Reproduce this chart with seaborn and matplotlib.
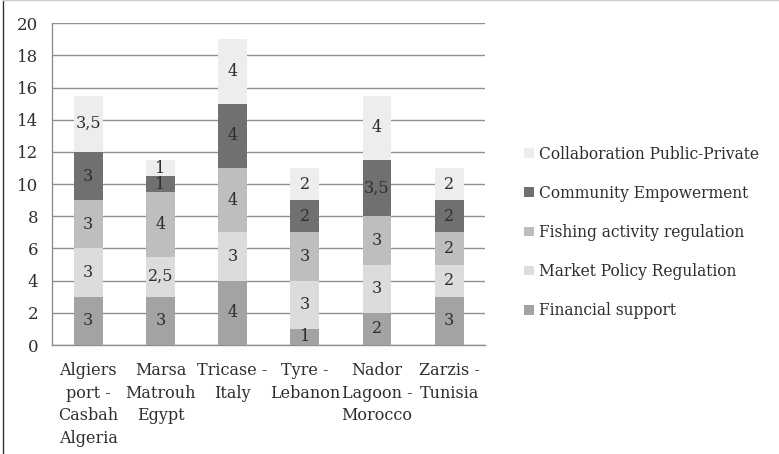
import numpy as np
import pandas as pd
import seaborn as sns
import matplotlib.pyplot as plt
from matplotlib.lines import Line2D
from matplotlib.patches import Patch

# data
sites = ["Algiers\nport -\nCasbah\nAlgeria", "Marsa\nMatrouh\nEgypt", "Tricase -\nItaly",
         "Tyre -\nLebanon", "Nador\nLagoon -\nMorocco", "Zarzis -\nTunisia"]
series = ["Financial support", "Market Policy Regulation", "Fishing activity regulation",
          "Community Empowerment", "Collaboration Public-Private"]
financial = [3, 3, 4, 1, 2, 3]
market = [3, 2.5, 3, 3, 3, 2]
fishing = [3, 4, 4, 3, 3, 2]
community = [3, 1, 4, 2, 3.5, 2]
collaboration = [3.5, 1, 4, 2, 4, 2]
colors = ["#a3a3a3", "#dcdcdc", "#bebebe", "#707070", "#ededed"]

values = np.array([financial, market, fishing, community, collaboration], dtype=float)
cum = values.cumsum(axis=0)

sns.set_style("white")
plt.rcParams['font.family'] = ['DejaVu Serif']

fig = plt.figure(figsize=(7.79, 4.54), dpi=100)
ax = fig.add_axes([0.067, 0.24, 0.556, 0.709])

# draw cumulative totals from the top series down so lower ones overlay
for i in range(len(series) - 1, -1, -1):
    df = pd.DataFrame({"site": sites, "total": cum[i]})
    sns.barplot(data=df, x="site", y="total", color=colors[i], width=0.4,
                saturation=1, ax=ax, zorder=3, edgecolor="none")

for i in range(len(series)):
    for j in range(len(sites)):
        v = values[i, j]
        lab = f"{v:g}".replace(".", ",")
        ax.text(j, cum[i, j] - v / 2, lab, ha="center", va="center",
                fontsize=11.5, color="#2e2e2e", zorder=4)

ax.set_ylim(0, 20)
ax.set_xlim(-0.5, 5.5)
ax.set_yticks(range(0, 21, 2))
ax.yaxis.grid(True, color="#8f8f8f", linewidth=1, zorder=0)
ax.set_axisbelow(True)
ax.set_xlabel("")
ax.set_ylabel("")
ax.set_xticks(range(len(sites)))
ax.set_xticklabels(sites, fontsize=11.5, color="#2e2e2e", linespacing=1.45)
ax.set_xticks(np.arange(-0.5, 6, 1), minor=True)
ax.tick_params(axis="x", which="major", length=0, pad=12)
ax.tick_params(axis="x", which="minor", length=5, color="#8f8f8f", direction="out")
ax.tick_params(axis="y", length=4, color="#8f8f8f", labelsize=12, labelcolor="#2e2e2e", pad=6)
for s in ["top", "right"]:
    ax.spines[s].set_visible(False)
for s in ["left", "bottom"]:
    ax.spines[s].set_color("#8f8f8f")
    ax.spines[s].set_linewidth(1)

handles = [Patch(facecolor=colors[i], edgecolor="none") for i in range(len(series) - 1, -1, -1)]
labels = series[::-1]
fig.legend(handles, labels, loc="center left", bbox_to_anchor=(0.655, 0.488), frameon=False,
           fontsize=11.2, labelcolor="#2e2e2e", handlelength=0.6, handleheight=0.6,
           handletextpad=0.35, labelspacing=1.42)

# figure frame
fig.add_artist(Line2D([0.004, 0.004], [0, 1], transform=fig.transFigure, color="#333333", lw=1))
fig.add_artist(Line2D([0.004, 1], [0.999, 0.999], transform=fig.transFigure, color="#cccccc", lw=1))

fig.savefig("out.png", dpi=100)
